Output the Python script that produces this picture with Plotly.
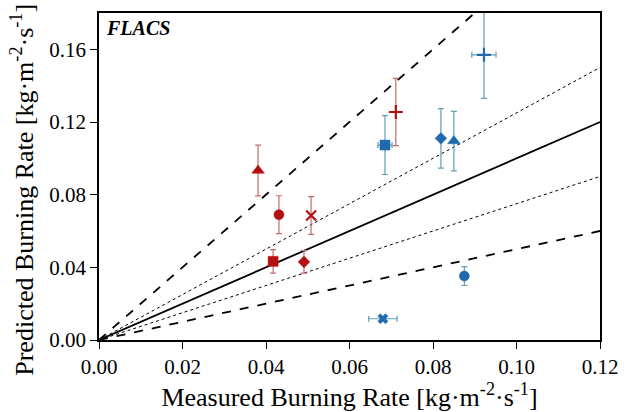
import plotly.graph_objects as go

# Red series (measured, predicted, y-error, x-error, symbol)
red_x = [0.0381, 0.0431, 0.0508, 0.0417, 0.0491, 0.0711]
red_y = [0.0933, 0.0690, 0.0685, 0.0433, 0.0430, 0.1255]
red_ey = [0.0140, 0.0104, 0.0104, 0.0065, 0.0062, 0.0185]
red_ex = [0.0, 0.0, 0.0, 0.0010, 0.0, 0.0]
red_sym = ["triangle-up", "circle", "x-thin", "square", "diamond", "cross-thin"]

# Blue series
blue_x = [0.0685, 0.0819, 0.0850, 0.0922, 0.0875, 0.0680]
blue_y = [0.1073, 0.1110, 0.1095, 0.1570, 0.0352, 0.0117]
blue_ey = [0.0162, 0.0164, 0.0164, 0.0240, 0.0052, 0.0012]
blue_ex = [0.0017, 0.0, 0.0, 0.0029, 0.0, 0.0034]
blue_sym = ["square", "diamond", "triangle-up", "cross-thin", "circle", "x"]

# Reference lines (slope, dash)
ref_slopes = [1.0, 2.0, 0.5, 1.25, 0.75]
ref_dash = ["solid", "dash", "dash", "dot", "dot"]
ref_width = [1.8, 1.8, 1.8, 1.0, 1.0]
xmax = 0.12

fig = go.Figure()
for s, d, w in zip(ref_slopes, ref_dash, ref_width):
    fig.add_trace(go.Scatter(x=[0, xmax], y=[0, s * xmax], mode="lines",
                             line=dict(color="black", dash=d, width=w),
                             showlegend=False, hoverinfo="skip"))

def add_pts(xs, ys, eys, exs, syms, mcol, ecol):
    for x, y, ey, ex, sym in zip(xs, ys, eys, exs, syms):
        thin = sym.endswith("-thin")
        size = {"triangle-up": 11, "circle": 10, "square": 10, "diamond": 9,
                "x-thin": 10, "cross-thin": 10, "x": 9}[sym]
        fig.add_trace(go.Scatter(
            x=[x], y=[y], mode="markers",
            marker=dict(symbol=sym, size=size, color=mcol,
                        line=dict(color=mcol, width=2.2 if thin else 0.5)),
            error_y=dict(type="data", array=[ey], color=ecol, thickness=1.2, width=3),
            error_x=dict(type="data", array=[ex], color=ecol, thickness=1.2, width=3,
                         visible=ex > 0),
            showlegend=False))

add_pts(red_x, red_y, red_ey, red_ex, red_sym, "#B50F0F", "#C46A6A")
add_pts(blue_x, blue_y, blue_ey, blue_ex, blue_sym, "#1F6AAE", "#5E9FB8")

font_family = "Liberation Serif, Times New Roman, serif"
axis_common = dict(showgrid=False, zeroline=False, showline=True, linecolor="black",
                   linewidth=1.5, mirror=True, ticks="outside", ticklen=7,
                   tickwidth=1.3, tickcolor="black",
                   tickfont=dict(family=font_family, size=21, color="black"))

fig.update_layout(
    width=634, height=412,
    margin=dict(l=99, r=34, t=11, b=72),
    plot_bgcolor="white", paper_bgcolor="white",
    xaxis=dict(range=[0, 0.12], dtick=0.02, tickformat=".2f",
               title=dict(text="Measured Burning Rate [kg·m<sup>-2</sup>·s<sup>-1</sup>]",
                          font=dict(family=font_family, size=26, color="black"),
                          standoff=0),
               **axis_common),
    yaxis=dict(range=[0, 0.18], tickvals=[0, 0.04, 0.08, 0.12, 0.16], tickformat=".2f",
               **axis_common),
    annotations=[
        dict(text="<b><i>FLACS</i></b>", xref="paper", yref="paper",
             x=0.01, y=0.995, xanchor="left", yanchor="top", showarrow=False,
             font=dict(family=font_family, size=20, color="black")),
        dict(text="Predicted Burning Rate [kg·m<sup>-2</sup>·s<sup>-1</sup>]",
             xref="paper", yref="paper", x=-0.152, y=0.459, textangle=-90,
             xanchor="center", yanchor="middle", showarrow=False,
             font=dict(family=font_family, size=26, color="black")),
    ],
)

fig.write_html("out.html")
